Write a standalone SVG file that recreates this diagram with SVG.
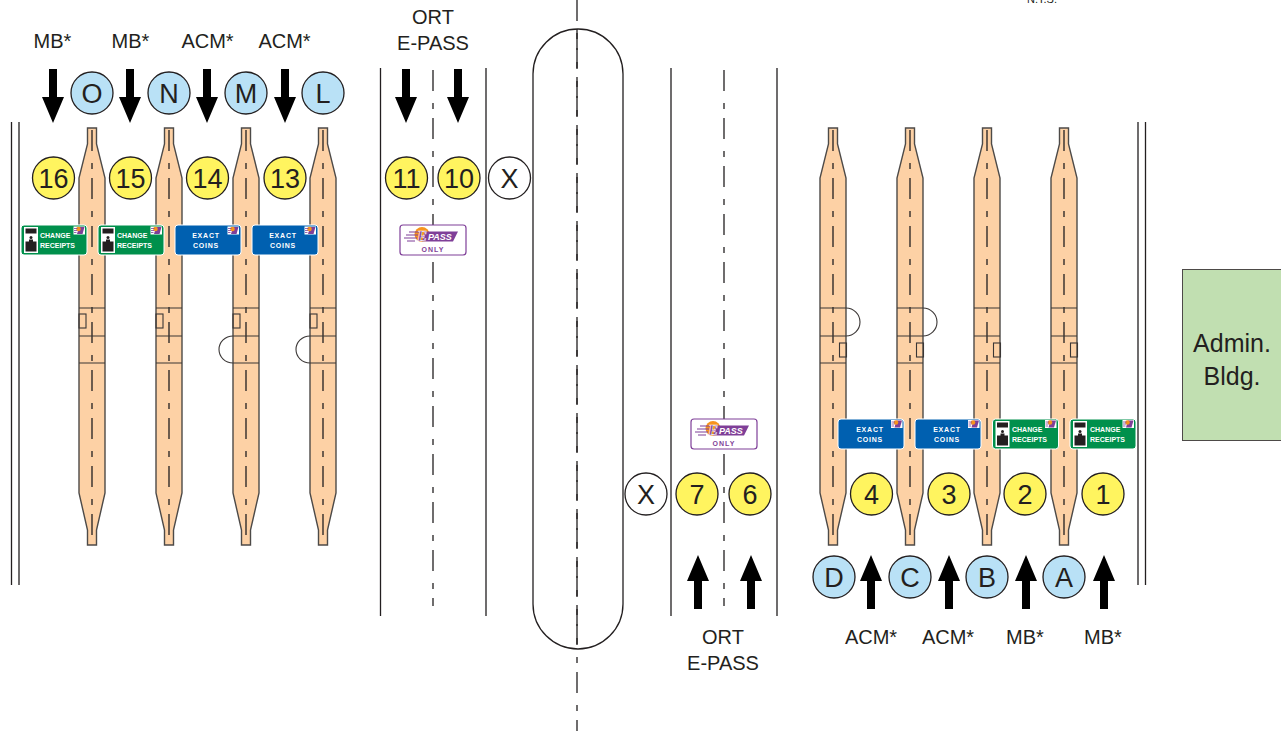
<svg xmlns="http://www.w3.org/2000/svg" xmlns:xlink="http://www.w3.org/1999/xlink" width="1281" height="731" viewBox="0 0 1281 731">
<style>
text{font-family:"Liberation Sans",Arial,sans-serif;fill:#231f20}
.lb{font-size:20px;text-anchor:middle}
.cn{font-size:27px;text-anchor:middle}
.cy{fill:#fff45f;stroke:#231f20;stroke-width:1.3}
.cb{fill:#b9e1f6;stroke:#231f20;stroke-width:1.3}
.cw{fill:#fff;stroke:#231f20;stroke-width:1.3}
.ln{stroke:#231f20;stroke-width:1.3;fill:none}
.dd{stroke:#231f20;stroke-width:1.3;fill:none;stroke-dasharray:21 12 6 9}
.isl{fill:#fdd1a5;stroke:#4d4a48;stroke-width:1.4;stroke-linejoin:miter}
.thin{stroke:#3a3635;stroke-width:1.1;fill:none}
.st{font-size:7px;font-weight:700;fill:#fff}
.stc{font-size:7px;font-weight:700;fill:#fff;text-anchor:middle;letter-spacing:.8px}
.only{font-size:7px;font-weight:700;fill:#7f3f98;text-anchor:middle;letter-spacing:1.1px}
</style>
<defs>
<path id="ad" d="M-4 0H4V28H11L0 54L-11 28H-4Z" fill="#000"/>
<path id="au" d="M-4 54H4V26H11L0 0L-11 26H-4Z" fill="#000"/>
<g id="island">
<path class="isl" d="M-4.5 128H4.5V144L13 178V493L4.5 530V545H-4.5V530L-13 493V178L-4.5 144Z"/>
<path class="dd" d="M0 130V540"/>
<path class="thin" d="M-13 308H13M-13 336H13M-13 363H13"/>
</g>
<g id="mini">
<rect x="0" y="0" width="11.500" height="8" fill="#fff"/>
<path d="M3.500 7.500L5.500 .5H11L9 7.500Z" fill="#7f3f98"/>
<circle cx="5" cy="2.500" r="2.300" fill="#f7941d"/>
<path d="M.5 2H4M.5 4H3.500M.5 6H3" stroke="#7f3f98" stroke-width=".8"/>
</g>
<g id="booth">
<rect x="3" y="2" width="14" height="26" fill="#fff"/>
<rect x="4.500" y="3.500" width="11" height="5" fill="#231f20"/>
<rect x="4.500" y="16.500" width="11" height="10" fill="#231f20"/>
<circle cx="10" cy="12.500" r="1.500" fill="#231f20"/>
<path d="M8 17V14.500H12V17Z" fill="#231f20"/>
</g>
<g id="epasslogo">
<circle cx="22" cy="9.500" r="7.500" fill="#f7941d"/>
<path d="M25 6.500H58L53 16.500H22Z" fill="#7f3f98"/>
<path d="M9 7H19M6 10H18M4 13H17M7 16H15" stroke="#7f3f98" stroke-width="1.200"/>
</g>
</defs>
<rect width="1281" height="731" fill="#fff"/>

<g id="connectors">
<path class="ln" d="M11.500 122V585M19 122V585M380.500 68V616M486 68V616M671 68V616M777 68V616M1138 122V585M1145.500 122V585"/>
<path class="dd" d="M433 70V606M724 70V606"/>
<path class="dd" d="M577 0V731"/>
<use href="#ad" x="53" y="69"/><use href="#ad" x="130" y="69"/><use href="#ad" x="207" y="69"/><use href="#ad" x="285" y="69"/>
<use href="#ad" x="406" y="69"/><use href="#ad" x="458" y="69"/>
<use href="#au" x="698" y="555"/><use href="#au" x="751" y="555"/>
<use href="#au" x="871" y="555"/><use href="#au" x="949" y="555"/><use href="#au" x="1026" y="555"/><use href="#au" x="1104" y="555"/>
</g>

<g id="median"><rect x="533" y="29" width="90" height="620" rx="45" ry="45" fill="none" stroke="#231f20" stroke-width="1.300"/><path class="dd" d="M577 29V649"/></g>

<g id="island-o"><use href="#island" x="92"/><rect class="thin" x="79" y="314" width="7" height="14"/></g>
<g id="island-n"><use href="#island" x="169"/><rect class="thin" x="156" y="314" width="7" height="14"/></g>
<g id="island-m"><use href="#island" x="246"/><rect class="thin" x="233" y="314" width="7" height="14"/><path class="thin" d="M233 336A14 13.500 0 0 0 233 363"/></g>
<g id="island-l"><use href="#island" x="323"/><rect class="thin" x="310" y="314" width="7" height="14"/><path class="thin" d="M310 336A14 13.500 0 0 0 310 363"/></g>
<g id="island-d"><use href="#island" x="833"/><rect class="thin" x="839.500" y="343" width="7" height="14"/><path class="thin" d="M846 308A14 14 0 0 1 846 336"/></g>
<g id="island-c"><use href="#island" x="910"/><rect class="thin" x="916.500" y="343" width="7" height="14"/><path class="thin" d="M923 308A14 14 0 0 1 923 336"/></g>
<g id="island-b"><use href="#island" x="987"/><rect class="thin" x="993.500" y="343" width="7" height="14"/></g>
<g id="island-a"><use href="#island" x="1064"/><rect class="thin" x="1070.500" y="343" width="7" height="14"/></g>

<g id="sign-16"><rect x="21" y="225" width="66" height="30" rx="3" fill="#00904c" stroke="#fff"/><use href="#booth" x="21" y="225"/><use href="#mini" x="73.500" y="226.500"/><text class="st" x="40" y="238">CHANGE</text><text class="st" x="40" y="247.500">RECEIPTS</text></g>
<g id="sign-15"><rect x="98" y="225" width="66" height="30" rx="3" fill="#00904c" stroke="#fff"/><use href="#booth" x="98" y="225"/><use href="#mini" x="150.500" y="226.500"/><text class="st" x="117" y="238">CHANGE</text><text class="st" x="117" y="247.500">RECEIPTS</text></g>
<g id="sign-14"><rect x="175" y="225" width="66" height="30" rx="3" fill="#0060b0" stroke="#fff"/><use href="#mini" x="227.500" y="226.500"/><text class="stc" x="206" y="238">EXACT</text><text class="stc" x="206" y="247.500">COINS</text></g>
<g id="sign-13"><rect x="252" y="225" width="66" height="30" rx="3" fill="#0060b0" stroke="#fff"/><use href="#mini" x="304.500" y="226.500"/><text class="stc" x="283" y="238">EXACT</text><text class="stc" x="283" y="247.500">COINS</text></g>
<g id="sign-4"><rect x="838" y="419" width="66" height="30" rx="3" fill="#0060b0" stroke="#fff"/><use href="#mini" x="891" y="420"/><text class="stc" x="870" y="432">EXACT</text><text class="stc" x="870" y="441.500">COINS</text></g>
<g id="sign-3"><rect x="915" y="419" width="66" height="30" rx="3" fill="#0060b0" stroke="#fff"/><use href="#mini" x="968" y="420"/><text class="stc" x="947" y="432">EXACT</text><text class="stc" x="947" y="441.500">COINS</text></g>
<g id="sign-2"><rect x="992.500" y="419" width="66" height="30" rx="3" fill="#00904c" stroke="#fff"/><use href="#booth" x="992.500" y="419"/><use href="#mini" x="1045" y="420"/><text class="st" x="1012" y="432">CHANGE</text><text class="st" x="1012" y="441.500">RECEIPTS</text></g>
<g id="sign-1"><rect x="1070" y="419" width="66" height="30" rx="3" fill="#00904c" stroke="#fff"/><use href="#booth" x="1070" y="419"/><use href="#mini" x="1122.500" y="420"/><text class="st" x="1090" y="432">CHANGE</text><text class="st" x="1090" y="441.500">RECEIPTS</text></g>

<g id="sign-epass-11"><rect x="400" y="225" width="66" height="30" rx="3" fill="#fff" stroke="#7f3f98" stroke-width="1.200"/><use href="#epasslogo" x="400" y="225"/><text x="417" y="241" style="font-family:'Liberation Serif',serif;font-size:15px;font-weight:700;font-style:italic;fill:#7f3f98;stroke:#fff;stroke-width:.5">E</text><text x="428" y="240" style="font-size:9px;font-weight:700;font-style:italic;fill:#fff">PASS</text><text class="only" x="433" y="252">ONLY</text></g>
<g id="sign-epass-7"><rect x="691" y="419" width="66" height="30" rx="3" fill="#fff" stroke="#7f3f98" stroke-width="1.200"/><use href="#epasslogo" x="691" y="419"/><text x="708" y="435" style="font-family:'Liberation Serif',serif;font-size:15px;font-weight:700;font-style:italic;fill:#7f3f98;stroke:#fff;stroke-width:.5">E</text><text x="719" y="434" style="font-size:9px;font-weight:700;font-style:italic;fill:#fff">PASS</text><text class="only" x="724" y="446">ONLY</text></g>

<g id="lane-o"><circle class="cb" cx="92" cy="93" r="21"/><text class="cn" x="92" y="102.500">O</text></g>
<g id="lane-n"><circle class="cb" cx="169" cy="93" r="21"/><text class="cn" x="169" y="102.500">N</text></g>
<g id="lane-m"><circle class="cb" cx="246" cy="93" r="21"/><text class="cn" x="246" y="102.500">M</text></g>
<g id="lane-l"><circle class="cb" cx="323" cy="93" r="21"/><text class="cn" x="323" y="102.500">L</text></g>
<g id="lane-d"><circle class="cb" cx="834" cy="577" r="21"/><text class="cn" x="834" y="586.500">D</text></g>
<g id="lane-c"><circle class="cb" cx="910" cy="577" r="21"/><text class="cn" x="910" y="586.500">C</text></g>
<g id="lane-b"><circle class="cb" cx="987" cy="577" r="21"/><text class="cn" x="987" y="586.500">B</text></g>
<g id="lane-a"><circle class="cb" cx="1064" cy="577" r="21"/><text class="cn" x="1064" y="586.500">A</text></g>

<g id="toll-16"><circle class="cy" cx="53.500" cy="178" r="21"/><text class="cn" x="53.500" y="187.500">16</text></g>
<g id="toll-15"><circle class="cy" cx="130.500" cy="178" r="21"/><text class="cn" x="130.500" y="187.500">15</text></g>
<g id="toll-14"><circle class="cy" cx="207.500" cy="178" r="21"/><text class="cn" x="207.500" y="187.500">14</text></g>
<g id="toll-13"><circle class="cy" cx="285" cy="178" r="21"/><text class="cn" x="285" y="187.500">13</text></g>
<g id="toll-11"><circle class="cy" cx="406.500" cy="178" r="21"/><text class="cn" x="406.500" y="187.500">11</text></g>
<g id="toll-10"><circle class="cy" cx="459" cy="178" r="21"/><text class="cn" x="459" y="187.500">10</text></g>
<g id="toll-x1"><circle class="cw" cx="509.500" cy="178" r="21"/><text class="cn" x="509.500" y="187.500">X</text></g>
<g id="toll-x2"><circle class="cw" cx="646" cy="494" r="21"/><text class="cn" x="646" y="503.500">X</text></g>
<g id="toll-7"><circle class="cy" cx="697" cy="494" r="21"/><text class="cn" x="697" y="503.500">7</text></g>
<g id="toll-6"><circle class="cy" cx="750" cy="494" r="21"/><text class="cn" x="750" y="503.500">6</text></g>
<g id="toll-4"><circle class="cy" cx="871.500" cy="494" r="21"/><text class="cn" x="871.500" y="503.500">4</text></g>
<g id="toll-3"><circle class="cy" cx="949" cy="494" r="21"/><text class="cn" x="949" y="503.500">3</text></g>
<g id="toll-2"><circle class="cy" cx="1025" cy="494" r="21"/><text class="cn" x="1025" y="503.500">2</text></g>
<g id="toll-1"><circle class="cy" cx="1103" cy="494" r="21"/><text class="cn" x="1103" y="503.500">1</text></g>

<g id="labels">
<text class="lb" x="52.500" y="48">MB*</text><text class="lb" x="130.500" y="48">MB*</text><text class="lb" x="207.500" y="48">ACM*</text><text class="lb" x="284.500" y="48">ACM*</text>
<text class="lb" x="433" y="24">ORT</text><text class="lb" x="433" y="50">E-PASS</text>
<text class="lb" x="723" y="644">ORT</text><text class="lb" x="723" y="670">E-PASS</text>
<text class="lb" x="871" y="644">ACM*</text><text class="lb" x="948" y="644">ACM*</text><text class="lb" x="1025" y="644">MB*</text><text class="lb" x="1103" y="644">MB*</text>
<text x="1042" y="3" text-anchor="middle" font-size="11">N.T.S.</text>
</g>

<g id="admin"><rect x="1182.500" y="269.500" width="110" height="171" fill="#c1dfb1" stroke="#4d4a48"/><text x="1232" y="352" text-anchor="middle" font-size="25">Admin.</text><text x="1232" y="385" text-anchor="middle" font-size="25">Bldg.</text></g>
</svg>
